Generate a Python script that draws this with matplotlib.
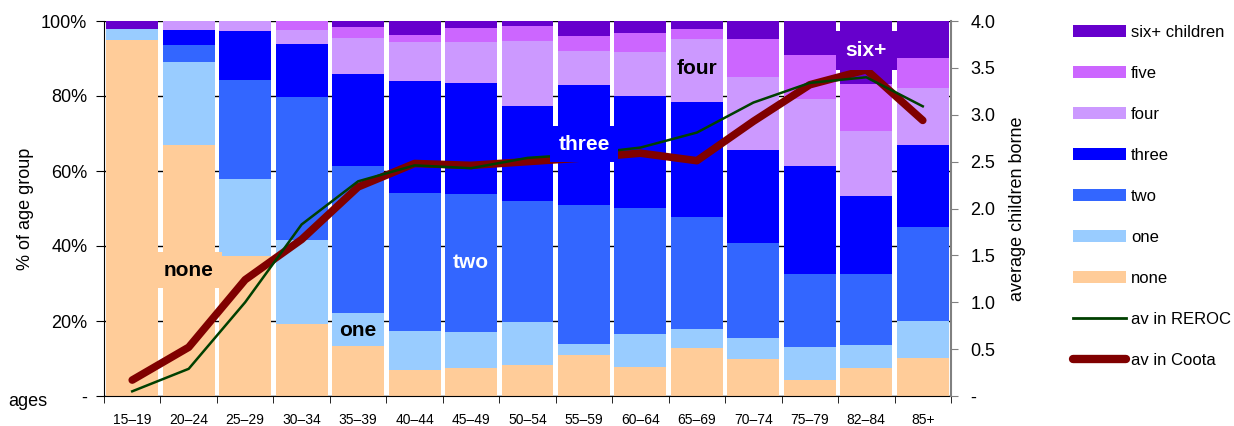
import matplotlib
matplotlib.use("Agg")
import matplotlib.pyplot as plt
import numpy as np
from matplotlib.patches import Patch
from matplotlib.lines import Line2D
from matplotlib.ticker import FuncFormatter

plt.rcParams['font.family'] = ['Liberation Sans', 'DejaVu Sans']

ages = ['15–19', '20–24', '25–29', '30–34', '35–39', '40–44', '45–49', '50–54',
        '55–59', '60–64', '65–69', '70–74', '75–79', '82–84', '85+']

# cumulative tops (% of age group)
top_none  = [94.9, 66.9, 37.3, 19.2, 13.3, 6.9, 7.5, 8.3, 10.9, 7.7, 12.8, 9.9, 4.3, 7.5, 10.1]
top_one   = [97.9, 89.1, 57.9, 41.6, 22.1, 17.3, 17.1, 19.7, 13.9, 16.5, 17.9, 15.5, 13.1, 13.6, 20.0]
top_two   = [97.9, 93.6, 84.3, 79.7, 61.3, 54.1, 53.9, 52.0, 50.9, 50.1, 47.7, 40.8, 32.5, 32.5, 45.1]
top_three = [97.9, 97.6, 97.3, 93.9, 85.9, 84.0, 83.5, 77.3, 82.9, 80.0, 78.4, 65.6, 61.3, 53.3, 66.9]
top_four  = [97.9, 100, 100, 97.6, 95.5, 94.4, 94.4, 94.7, 92.0, 91.7, 95.2, 85.1, 79.2, 70.7, 82.1]
top_five  = [97.9, 100, 100, 100, 98.4, 96.3, 98.1, 98.7, 96.0, 96.8, 97.9, 95.2, 90.9, 83.2, 90.1]
top_six   = [100] * 15

av_reroc = [0.05, 0.29, 1.00, 1.83, 2.29, 2.46, 2.43, 2.54, 2.58, 2.65, 2.81, 3.13, 3.34, 3.40, 3.09]
av_coota = [0.17, 0.52, 1.24, 1.67, 2.23, 2.48, 2.46, 2.50, 2.54, 2.59, 2.51, 2.93, 3.32, 3.48, 2.94]

names = ['none', 'one', 'two', 'three', 'four', 'five', 'six+ children']
colors = ['#FFCC99', '#99CCFF', '#3366FF', '#0000FF', '#CC99FF', '#CC66FF', '#6600CC']
tops = [top_none, top_one, top_two, top_three, top_four, top_five, top_six]

fig = plt.figure(figsize=(12.34, 4.26), dpi=100)
ax = fig.add_axes([104/1234, 1-396/426, (951-104)/1234, 375/426])
x = np.arange(len(ages))

bottom = np.zeros(len(ages))
for name, col, top in zip(names, colors, tops):
    h = np.array(top) - bottom
    ax.bar(x, h, bottom=bottom, width=0.92, color=col, linewidth=0, zorder=2)
    bottom = np.array(top, dtype=float)

ax.set_xlim(-0.5, len(ages) - 0.5)
ax.set_ylim(0, 100)
ax.set_yticks([0, 20, 40, 60, 80, 100])
ax.yaxis.set_major_formatter(FuncFormatter(lambda v, p: '-' if v == 0 else '%d%%' % v))
ax.grid(axis='y', color='black', linewidth=1, zorder=0)
ax.set_axisbelow(True)
ax.set_xticks(x)
ax.set_xticklabels(ages, fontsize=10)
ax.set_xticks(np.arange(-0.5, len(ages)), minor=True)
ax.tick_params(axis='x', which='major', length=0, pad=12)
ax.tick_params(axis='x', which='minor', length=5, direction='out')
ax.tick_params(axis='y', length=6, direction='out', labelsize=13, pad=6)
ax.spines['top'].set_visible(False)
ax.spines['right'].set_visible(False)
ax.set_ylabel('% of age group', fontsize=13, labelpad=5)

ax2 = ax.twinx()
ax2.set_ylim(0, 4)
ax2.set_yticks(np.arange(0, 4.01, 0.5))
ax2.yaxis.set_major_formatter(FuncFormatter(lambda v, p: '-' if v == 0 else '%.1f' % v))
ax2.tick_params(axis='y', length=5, direction='out', labelsize=13, pad=9, color='#808080')
ax2.spines['right'].set_color('#808080')
ax2.spines['right'].set_linewidth(1.5)
ax2.spines['top'].set_visible(False)
ax2.spines['left'].set_visible(False)
ax2.spines['bottom'].set_visible(False)
ax2.set_ylabel('average children borne', fontsize=13, labelpad=10)

ax2.plot(x, av_coota, color='#800000', linewidth=5.5, solid_capstyle='round',
         solid_joinstyle='round', zorder=3)
ax2.plot(x, av_reroc, color='#004000', linewidth=1.8, zorder=4)

# in-bar labels with boxes the colour of the band
lab = [('none', 1, 33.6, 'black', colors[0], 6),
       ('one', 4, 17.6, 'black', colors[1], 4),
       ('two', 6, 35.6, 'white', colors[2], 4),
       ('three', 8, 67.2, 'white', colors[3], 6),
       ('four', 10, 87.2, 'black', colors[4], 4),
       ('six+', 13, 92.2, 'white', colors[6], 7)]
for t, xi, yi, tc, bc, pd in lab:
    ax2.text(xi, yi, t, transform=ax.transData, ha='center', va='center', fontsize=15,
             fontweight='bold', color=tc,
             bbox=dict(facecolor=bc, edgecolor='none', pad=pd), zorder=6)

fig.text(8/1234, 1-402/426, 'ages', fontsize=13, va='center', ha='left')

handles = [Patch(facecolor=c, edgecolor='none') for c in colors[::-1]]
handles += [Line2D([], [], color='#004000', linewidth=2),
            Line2D([], [], color='#800000', linewidth=6, solid_capstyle='round')]
labels = names[::-1] + ['av in REROC', 'av in Coota']
fig.legend(handles, labels, loc='upper left', bbox_to_anchor=(1066/1234, 1-18/426),
           frameon=False, fontsize=12, handlelength=3.2, handleheight=0.8,
           handletextpad=0.3, labelspacing=1.55, borderaxespad=0)

fig.savefig('out.png', dpi=100)
